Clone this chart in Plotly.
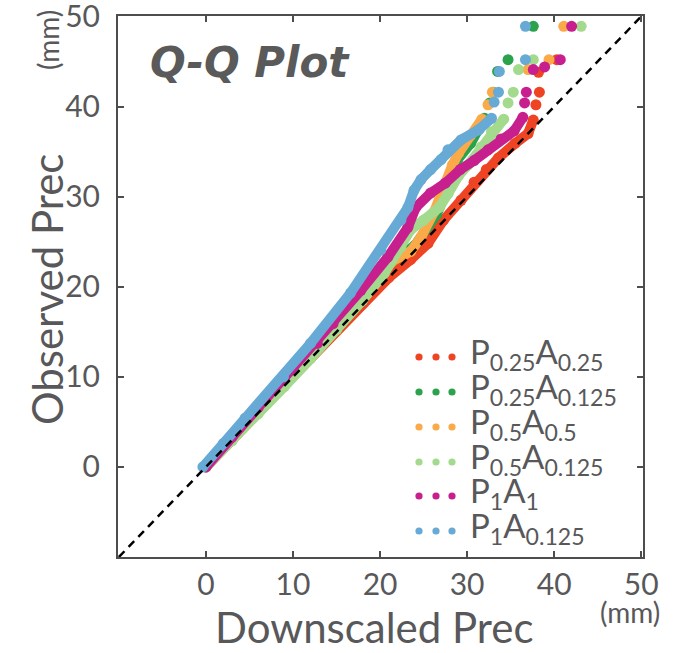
import plotly.graph_objects as go

# ---------------- data ----------------
series_labels = [
    "P<sub>0.25</sub>A<sub>0.25</sub>",
    "P<sub>0.25</sub>A<sub>0.125</sub>",
    "P<sub>0.5</sub>A<sub>0.5</sub>",
    "P<sub>0.5</sub>A<sub>0.125</sub>",
    "P<sub>1</sub>A<sub>1</sub>",
    "P<sub>1</sub>A<sub>0.125</sub>",
]
series_colors = ["#EF4424", "#2BA24C", "#FBAA4A", "#A4DA8E", "#C7208E", "#66AAD5"]

red_x = [0, 3, 6, 9, 12, 15, 18, 21, 23.5, 25.5, 27.3, 29.3, 30.8, 32.2, 33.6, 35.5, 37.0, 37.6]
red_y = [0, 3.0, 6.1, 9.2, 12.2, 15.2, 18.1, 21.0, 23.0, 24.8, 27.4, 29.6, 31.6, 33.0, 34.3, 35.9, 37.0, 38.5]
red_tail_x = [37.9, 38.3, 38.2, 40.3]
red_tail_y = [40.2, 41.6, 43.8, 45.2]

green_x = [0, 3, 6, 9, 12, 15, 18, 21, 24, 26.5, 27.7, 28.9, 30.4, 31.4, 32.0]
green_y = [0, 3.1, 6.3, 9.3, 12.5, 16.0, 19.4, 22.5, 24.6, 28.0, 30.7, 34.1, 35.9, 37.5, 38.7]
green_tail_x = [32.6, 33.0, 33.5, 34.7, 37.6]
green_tail_y = [40.4, 41.6, 43.9, 45.2, 48.9]

orange_x = [0, 3, 6, 9, 12, 14.6, 17.8, 20.9, 23.5, 24.7, 26.2, 27.2, 28.3, 29.0, 30.4, 31.7]
orange_y = [0, 3.2, 6.4, 9.5, 12.8, 15.9, 19.3, 22.6, 23.9, 25.5, 28.3, 31.0, 33.5, 34.8, 36.8, 38.6]
orange_tail_x = [32.4, 32.9, 37.0, 39.4, 41.1]
orange_tail_y = [40.2, 41.6, 44.1, 45.2, 48.9]

lgreen_x = [0, 3, 6, 9, 12, 15, 18, 20.5, 22.4, 23.5, 25.0, 26.8, 27.8, 29.0, 30.1, 31.6, 32.8, 34.2]
lgreen_y = [0, 2.9, 5.9, 8.9, 12.0, 15.2, 18.5, 21.5, 24.4, 26.3, 27.4, 28.8, 30.3, 32.3, 33.5, 35.5, 37.2, 38.6]
lgreen_tail_x = [34.7, 35.3, 35.9, 37.6, 43.1]
lgreen_tail_y = [40.4, 41.6, 44.1, 45.2, 48.9]

mag_x = [0, 3, 6, 9, 12.8, 14.6, 17.8, 20.9, 23.2, 24.1, 25.8, 27.5, 29.2, 30.8, 32.4, 33.9, 35.4, 36.4]
mag_y = [0, 3.3, 6.6, 9.8, 13.7, 15.9, 19.6, 23.3, 26.6, 28.8, 30.4, 31.5, 33.0, 34.0, 35.2, 36.4, 37.3, 38.8]
mag_tail_x = [36.6, 36.8, 37.6, 38.9, 40.7, 42.0]
mag_tail_y = [40.4, 41.6, 44.1, 44.4, 45.2, 48.9]

blue_x = [-0.35, 2.0, 4.5, 8.9, 12.0, 16.6, 20.1, 22.4, 23.2, 23.9, 24.7, 25.8, 27.0, 27.8, 29.3, 31.3, 32.8]
blue_y = [0, 2.6, 5.4, 10.0, 13.7, 19.3, 24.1, 27.4, 28.8, 30.7, 31.9, 33.0, 34.1, 35.2, 36.3, 37.4, 38.7]
blue_tail_x = [33.1, 33.6, 33.7, 36.7, 36.7]
blue_tail_y = [40.5, 41.6, 43.9, 45.2, 48.9]

diag_x = [-10, 50]
diag_y = [-10, 50]

tick_vals = [0, 10, 20, 30, 40, 50]
tick_text = ["0", "10", "20", "30", "40", "50"]

curves = [
    (red_x, red_y, red_tail_x, red_tail_y),
    (green_x, green_y, green_tail_x, green_tail_y),
    (orange_x, orange_y, orange_tail_x, orange_tail_y),
    (lgreen_x, lgreen_y, lgreen_tail_x, lgreen_tail_y),
    (mag_x, mag_y, mag_tail_x, mag_tail_y),
    (blue_x, blue_y, blue_tail_x, blue_tail_y),
]

# ---------------- figure ----------------
W, H = 676, 653
L, R, T, B = 118, 33, 16, 96
PW, PH = W - L - R, H - T - B
TXT = "#58585A"
FONT = "Lato"

def pxx(px):
    return (px - L) / PW

def pyy(py):
    return (H - B - py) / PH

fig = go.Figure()
for (cx, cy, tx, ty), col in zip(curves, series_colors):
    fig.add_trace(go.Scatter(x=cx, y=cy, mode="lines+markers",
                             line=dict(color=col, width=10),
                             marker=dict(color=col, size=11),
                             showlegend=False, hoverinfo="skip"))
    fig.add_trace(go.Scatter(x=tx, y=ty, mode="markers",
                             marker=dict(color=col, size=11),
                             showlegend=False, hoverinfo="skip"))

fig.add_trace(go.Scatter(x=diag_x, y=diag_y, mode="lines",
                         line=dict(color="black", width=2.5, dash="8px,6px"),
                         showlegend=False, hoverinfo="skip"))

axis_common = dict(
    showgrid=False, zeroline=False, showline=True, linewidth=2, linecolor="#4D4D4D",
    mirror="ticks", ticks="inside", ticklen=6, tickwidth=1.5, tickcolor="#4D4D4D",
    tickvals=tick_vals, ticktext=tick_text, ticklabeloverflow="allow", automargin=False,
    tickfont=dict(family=FONT, size=30, color=TXT),
)
fig.update_xaxes(range=[-10.1, 50.2], ticklabelstandoff=0, **axis_common)
fig.update_yaxes(range=[-10, 50.05], ticklabelstandoff=10, **axis_common)

shapes = []
annotations = []
legend_rows = [357, 392, 427, 462, 496, 531]
dot_cols = [419, 436, 452]
rad = 3.6
for lab, col, ry in zip(series_labels, series_colors, legend_rows):
    for dx in dot_cols:
        shapes.append(dict(type="circle", xref="paper", yref="paper",
                           x0=pxx(dx - rad), x1=pxx(dx + rad),
                           y0=pyy(ry + rad), y1=pyy(ry - rad),
                           fillcolor=col, line=dict(width=0)))
    annotations.append(dict(xref="paper", yref="paper", x=pxx(468), y=pyy(ry - 4),
                            xanchor="left", yanchor="middle", showarrow=False,
                            text=lab, font=dict(family=FONT, size=33, color=TXT)))

annotations += [
    dict(xref="paper", yref="paper", x=pxx(250), y=pyy(63), xanchor="center", yanchor="middle",
         showarrow=False, text="<b><i>Q-Q Plot</i></b>",
         font=dict(family="DejaVu Sans", size=42, color="#5A5A5A")),
    dict(xref="paper", yref="paper", x=pxx(374), y=pyy(627), xanchor="center", yanchor="middle",
         showarrow=False, text="Downscaled Prec", font=dict(family=FONT, size=42, color=TXT)),
    dict(xref="paper", yref="paper", x=pxx(630), y=pyy(612), xanchor="center", yanchor="middle",
         showarrow=False, text="(mm)", font=dict(family=FONT, size=28, color=TXT)),
    dict(xref="paper", yref="paper", x=pxx(47), y=pyy(290), xanchor="center", yanchor="middle",
         showarrow=False, text="Observed Prec", textangle=-90,
         font=dict(family=FONT, size=42, color=TXT)),
    dict(xref="paper", yref="paper", x=pxx(48), y=pyy(40), xanchor="center", yanchor="middle",
         showarrow=False, text="(mm)", textangle=-90,
         font=dict(family=FONT, size=28, color=TXT)),
]

fig.update_layout(
    width=W, height=H, margin=dict(l=L, r=R, t=T, b=B, autoexpand=False),
    paper_bgcolor="white", plot_bgcolor="white",
    shapes=shapes, annotations=annotations, showlegend=False,
)
fig.write_html("out.html", config={"displayModeBar": False},
               post_script="document.body.style.margin='0px';document.body.style.overflow='hidden';")
